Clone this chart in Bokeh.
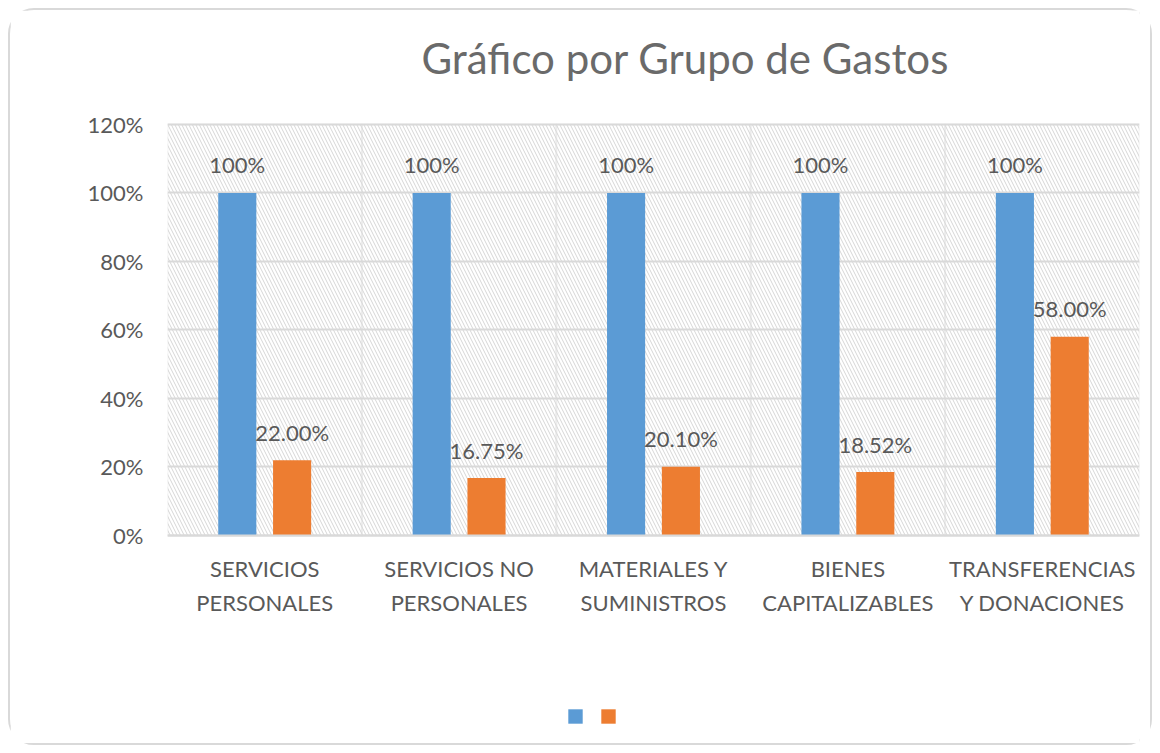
from bokeh.plotting import figure
from bokeh.models import (FactorRange, Range1d, FixedTicker, NumeralTickFormatter,
                          BoxAnnotation, Legend, LegendItem, ColumnDataSource, Label)
from bokeh.transform import dodge
from bokeh.core.properties import value
from bokeh.embed import file_html
from bokeh.resources import INLINE

categories = ["SERVICIOS\nPERSONALES", "SERVICIOS NO\nPERSONALES", "MATERIALES Y\nSUMINISTROS",
              "BIENES\nCAPITALIZABLES", "TRANSFERENCIAS\nY DONACIONES"]
serie_azul = [1.00, 1.00, 1.00, 1.00, 1.00]
serie_naranja = [0.22, 0.1675, 0.201, 0.1852, 0.58]
y_ticks = [0, 0.2, 0.4, 0.6, 0.8, 1.0, 1.2]
titulo = "Gráfico por Grupo de Gastos"

FONT = "Lato"
GRAY = "#595959"
BLUE = "#5B9BD5"
ORANGE = "#ED7D31"
GRID = "#d9d9d9"

src = ColumnDataSource(dict(
    cat=categories,
    azul=serie_azul,
    naranja=serie_naranja,
    lab_azul=[f"{v*100:.0f}%" for v in serie_azul],
    lab_naranja=[f"{v*100:.2f}%" for v in serie_naranja],
))

# the frame covers the full height; the data area is 0..120 %, the rest holds title,
# category labels and legend
y_top = y_ticks[-1]
p = figure(width=1144, height=737, x_range=FactorRange(*categories),
           y_range=Range1d(-0.619, 1.5328),
           output_backend="svg", toolbar_location=None, title=None,
           min_border_left=157, min_border_right=15, min_border_top=0, min_border_bottom=0,
           styles={"border": "2px solid #d9d9d9", "border-radius": "26px",
                   "margin-left": "8px", "margin-top": "8px"})
p.background_fill_color = "white"
p.border_fill_color = "white"
p.outline_line_color = None

# hatched plot area, one cell per category (gives the outline and the vertical separators)
for i in range(len(categories)):
    p.add_layout(BoxAnnotation(left=i, right=i + 1, bottom=0, top=y_top,
                               fill_alpha=0, line_color=GRID, line_width=2,
                               hatch_pattern="\\", hatch_color="#d6d6d6",
                               hatch_scale=7, hatch_weight=1, level="image"))

w = 0.196
r1 = p.vbar(x=dodge("cat", -0.141, range=p.x_range), top="azul", width=w, source=src,
            fill_color=BLUE, line_color=None)
r2 = p.vbar(x=dodge("cat", 0.141, range=p.x_range), top="naranja", width=w, source=src,
            fill_color=ORANGE, line_color=None)

p.text(x=dodge("cat", -0.141, range=p.x_range), y="azul", text="lab_azul", source=src,
       text_font=value(FONT), text_font_size="22px", text_color=GRAY,
       text_align="center", text_baseline="middle", y_offset=-28)
p.text(x=dodge("cat", 0.141, range=p.x_range), y="naranja", text="lab_naranja", source=src,
       text_font=value(FONT), text_font_size="22px", text_color=GRAY,
       text_align="center", text_baseline="middle", y_offset=-28)

# grids
p.ygrid.ticker = FixedTicker(ticks=y_ticks)
p.ygrid.grid_line_color = GRID
p.ygrid.grid_line_width = 2
p.xgrid.grid_line_color = None

# axes
xax = p.xaxis[0]
yax = p.yaxis[0]
yax.ticker = FixedTicker(ticks=y_ticks)
yax.formatter = NumeralTickFormatter(format="0%")
yax.axis_line_color = None
yax.major_tick_line_color = None
yax.minor_tick_line_color = None
yax.major_label_standoff = 18
for ax in (xax, yax):
    ax.major_label_text_font = FONT
    ax.major_label_text_font_size = "22px"
    ax.major_label_text_color = GRAY
xax.fixed_location = 0
xax.axis_line_color = GRID
xax.axis_line_width = 2
xax.major_tick_line_color = None
xax.major_label_standoff = 14
xax.major_label_text_line_height = 1.25
xax.major_label_orientation = "horizontal"

# title
p.add_layout(Label(x=1.3066, y=1.3927, text=titulo, text_font=FONT, text_font_size="42px",
                   text_color="#6a6a6a", text_align="left", text_baseline="alphabetic"))

# legend (no labels, as in the reference)
legend = Legend(items=[LegendItem(label=value(""), renderers=[r1]),
                       LegendItem(label=value(""), renderers=[r2])],
                orientation="horizontal", location=(399, 22), glyph_width=18, glyph_height=18,
                label_width=0, label_height=0, label_standoff=0, spacing=15, padding=0, margin=0,
                border_line_color=None, background_fill_alpha=0)
p.add_layout(legend)

open("out.html", "w").write(file_html(p, INLINE))
